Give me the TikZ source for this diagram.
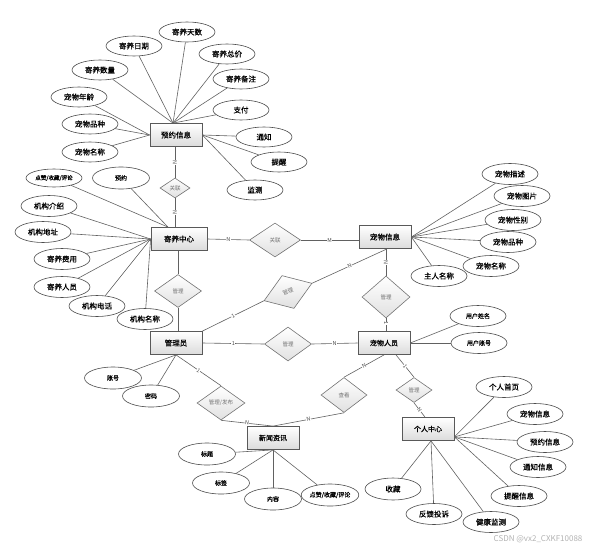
\documentclass[tikz,border=0pt]{standalone}
\usepackage{fontspec}
\setmainfont{Noto Sans CJK SC}
\newfontfamily\hv{Noto Sans CJK SC}[FakeBold=0.5]
\usetikzlibrary{shapes.geometric}
\begin{document}
\begin{tikzpicture}[x=1pt,y=-1pt,
 ent/.style={draw=black!65, line width=0.8pt, top color=white, bottom color=black!14, minimum width=52pt, minimum height=23pt, inner sep=0pt, font=\hv\fontsize{7.5}{8}\selectfont},
 rel/.style={diamond, draw=black!55, line width=0.6pt, top color=white, bottom color=black!12, inner sep=0pt, font=\fontsize{5.5}{6}\selectfont, text=black!55},
 attr/.style={ellipse, draw=black!70, line width=0.6pt, fill=white, minimum width=56pt, minimum height=20pt, inner sep=0pt, font=\hv\fontsize{7.5}{8}\selectfont},
 sattr/.style={attr, font=\hv\fontsize{6}{7}\selectfont},
 conn/.style={draw=black!62, line width=0.6pt},
 lab/.style={font=\fontsize{5.5}{6}\selectfont, text=black!70, fill=white, inner sep=0.3pt}
]
\useasboundingbox (0,0) rectangle (609,551);

% entities
\node[ent] (yyxx) at (176,135) {预约信息};
\node[ent, minimum width=56pt] (jyzx) at (179,239) {寄养中心};
\node[ent] (cwxx) at (385,237) {宠物信息};
\node[ent] (gly) at (176,343) {管理员};
\node[ent, font=\hv\fontsize{7}{8}\selectfont] (cwry) at (384,343) {宠物人员};
\node[ent, font=\hv\fontsize{7}{8}\selectfont] (xwzx) at (273,438) {新闻资讯};
\node[ent, font=\hv\fontsize{7}{8}\selectfont] (grzx) at (428,429) {个人中心};

% relationships
\node[rel, minimum width=30pt, minimum height=20pt] (r1) at (175,188) {关联};
\node[rel, minimum width=51pt, minimum height=34pt] (r2) at (275,240) {关联};
\node[rel, minimum width=47pt, minimum height=33pt] (r3) at (178,291) {管理};
\node[rel, minimum width=51pt, minimum height=35pt, rotate=20] (r4) at (288,292) {管理};
\node[rel, minimum width=47pt, minimum height=34pt] (r5) at (288,344) {管理};
\node[rel, minimum width=48pt, minimum height=42pt] (r6) at (386,297) {管理};
\node[rel, minimum width=48pt, minimum height=34pt] (r7) at (221,403) {管理/发布};
\node[rel, minimum width=46pt, minimum height=35pt] (r8) at (344,395) {查看};
\node[rel, minimum width=36pt, minimum height=25pt] (r9) at (414,390) {管理};

% attributes of 预约信息
\node[attr] (a1) at (187,32) {寄养天数};
\node[attr] (a2) at (134,46) {寄养日期};
\node[attr] (a3) at (227,54) {寄养总价};
\node[attr] (a4) at (100,70) {寄养数量};
\node[attr] (a5) at (241,79) {寄养备注};
\node[attr] (a6) at (79,97) {宠物年龄};
\node[attr] (a7) at (241,110) {支付};
\node[attr] (a8) at (90,124) {宠物品种};
\node[attr] (a9) at (264,137) {通知};
\node[attr] (a10) at (90,152) {宠物名称};
\node[attr] (a11) at (279,162) {提醒};
\node[attr] (a12) at (255,190) {监测};
\foreach \n in {a1,a2,a3,a4,a5,a7} \draw[conn] (\n) -- ([xshift=-3pt]yyxx.north);
\foreach \n in {a6,a8,a10} \draw[conn] (\n) -- (yyxx.west);
\foreach \n in {a9,a11,a12} \draw[conn] (\n) -- (yyxx.east);

% attributes of 寄养中心
\node[sattr, minimum height=18pt, font=\hv\fontsize{5.5}{6}\selectfont] (b1) at (54,178) {点赞/收藏/评论};
\node[sattr, minimum width=57pt, minimum height=22pt] (b2) at (121,178) {预约};
\node[attr, minimum height=21pt] (b3) at (49,206) {机构介绍};
\node[attr, minimum height=21pt] (b4) at (43,232) {机构地址};
\node[attr, minimum height=21pt] (b5) at (62,259) {寄养费用};
\node[attr, minimum height=21pt] (b6) at (62,287) {寄养人员};
\node[attr, minimum height=21pt] (b7) at (97,306) {机构电话};
\node[attr, minimum height=21pt] (b8) at (145,319) {机构名称};
\foreach \n in {b1,b2} \draw[conn] (\n) -- ([xshift=-11pt]jyzx.north);
\foreach \n in {b3,b4,b5,b6,b7,b8} \draw[conn] (\n) -- (jyzx.west);

% attributes of 宠物信息
\node[attr, minimum height=21pt] (c1) at (510,174) {宠物描述};
\node[attr, minimum height=21pt] (c2) at (522,196) {宠物图片};
\node[attr, minimum height=21pt] (c3) at (513,220) {宠物性别};
\node[attr, minimum height=21pt] (c4) at (508,242) {宠物品种};
\node[attr, minimum height=21pt] (c5) at (491,266) {宠物名称};
\node[attr, minimum height=21pt] (c6) at (439,276) {主人名称};
\foreach \n in {c1,c2,c3,c4,c5,c6} \draw[conn] (\n) -- (cwxx.east);

% attributes of 宠物人员
\node[sattr, minimum height=21pt] (d1) at (478,316) {用户姓名};
\node[sattr, minimum height=21pt] (d2) at (479,343) {用户账号};
\foreach \n in {d1,d2} \draw[conn] (\n) -- (cwry.east);

% attributes of 个人中心
\node[attr, minimum height=21pt] (e1) at (504,387) {个人首页};
\node[attr, minimum height=21pt] (e2) at (535,414) {宠物信息};
\node[attr, minimum height=21pt] (e3) at (545,442) {预约信息};
\node[attr, minimum height=21pt] (e4) at (538,467) {通知信息};
\node[attr, minimum height=21pt] (e5) at (519,496) {提醒信息};
\node[attr, minimum height=21pt] (e6) at (491,522) {健康监测};
\node[attr, minimum height=21pt] (e7) at (434,514) {反馈投诉};
\node[attr, minimum height=22pt] (e8) at (393,489) {收藏};
\foreach \n in {e1,e2,e3,e4,e5} \draw[conn] (\n) -- ([yshift=4pt]grzx.south east);
\foreach \n in {e6,e7,e8} \draw[conn] (\n) -- ([xshift=3pt]grzx.south);

% attributes of 管理员
\node[sattr, minimum width=57pt, minimum height=22pt] (f1) at (113,378) {账号};
\node[sattr, minimum width=57pt, minimum height=22pt] (f2) at (151,396) {密码};
\foreach \n in {f1,f2} \draw[conn] (\n) -- (gly.south);

% attributes of 新闻资讯
\node[sattr, minimum width=57pt, minimum height=22pt] (g1) at (207,454) {标题};
\node[sattr, minimum width=57pt, minimum height=22pt] (g2) at (221,483) {标签};
\node[sattr, minimum width=57pt, minimum height=22pt] (g3) at (273,499) {内容};
\node[sattr, minimum width=57pt, minimum height=22pt] (g4) at (330,495) {点赞/收藏/评论};
\foreach \n in {g1,g2,g3,g4} \draw[conn] (\n) -- (xwzx.south);

% relationship connectors
\draw[conn] (yyxx.south -| r1.north) -- node[lab, sloped] {N} (r1.north);
\draw[conn] (r1.south) -- node[lab, sloped] {N} (r1.south |- jyzx.north);
\draw[conn] (jyzx.east) -- node[lab] {N} (r2.west);
\draw[conn] (r2.east) -- node[lab] {M} (r2.east -| cwxx.west);
\draw[conn] (jyzx.south -| r3.north) -- (r3.north);
\draw[conn] (r3.south) -- (r3.south |- gly.north);
\draw[conn] (gly.north east) -- node[lab, sloped] {1} (r4.west);
\draw[conn] (r4.east) -- node[lab, sloped] {N} ([xshift=2pt]cwxx.south);
\draw[conn] (gly.east) -- node[lab] {1} (r5.west);
\draw[conn] (r5.east) -- node[lab] {N} (cwry.west);
\draw[conn] (cwxx.south -| r6.north) -- node[lab, sloped] {N} (r6.north);
\draw[conn] (r6.south) -- node[lab, sloped, pos=0.4] {1} (r6.south |- cwry.north);
\draw[conn] (gly.south) -- node[lab, sloped] {1} (r7.north);
\draw[conn] (r7.south) -- node[lab, sloped] {N} (xwzx.north);
\draw[conn] (cwry.south) -- node[lab, sloped] {N} (r8.north);
\draw[conn] (r8.south) -- node[lab, sloped] {N} (xwzx.north);
\draw[conn] ([xshift=12pt]cwry.south) -- node[lab, sloped] {1} (r9.north);
\draw[conn] (r9.south) -- node[lab, sloped] {N} ([xshift=-3pt]grzx.north);

% watermark
\node[font=\fontsize{8}{9}\selectfont, text=black!30] (wm) at (538,539) {CSDN @vx2\_CXKF10088};
\end{tikzpicture}
\end{document}
